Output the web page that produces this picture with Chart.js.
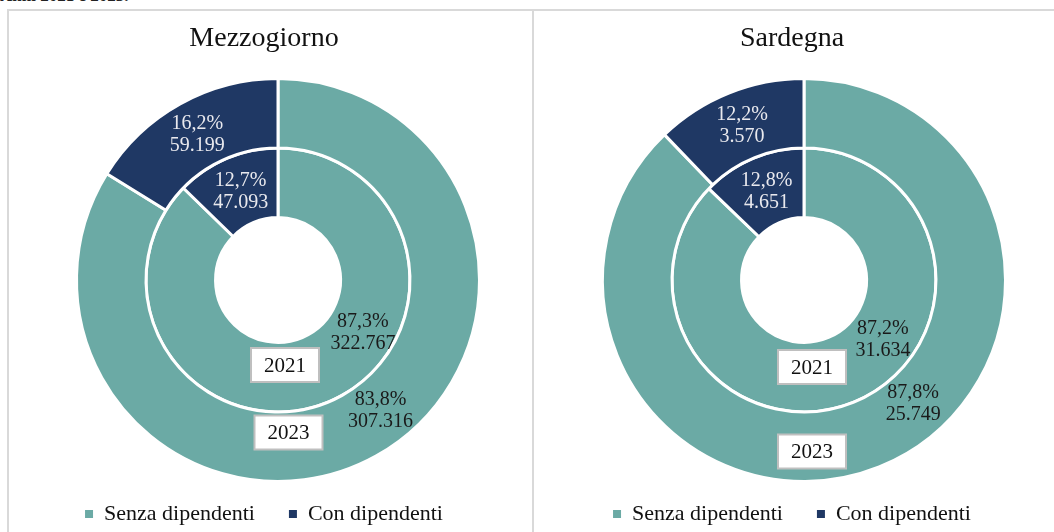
<!DOCTYPE html>
<html>
<head>
<meta charset="utf-8">
<script src="https://cdn.jsdelivr.net/npm/chart.js@4.4.1/dist/chart.umd.min.js"></script>
<style>
  html, body { margin: 0; padding: 0; background: #fff; overflow: hidden; }
  #wrap { position: relative; width: 1054px; height: 532px; overflow: hidden; }
  .cap { position: absolute; left: 0; top: -14px; font: bold 17px "Liberation Serif", serif; color: #222; white-space: nowrap; }
  .panel { position: absolute; top: 9px; height: 600px; border-top: 2px solid #d9d9d9; border-left: 2px solid #d9d9d9; }
  #p1 { left: 7px; width: 524px; }
  #p2 { left: 532px; width: 600px; }
  canvas { position: absolute; top: 0; }
  #c1 { left: 3px; }
  #c2 { left: 534px; }
</style>
</head>
<body>
<div id="wrap">
  <div class="cap">Anni 2021 e 2023.</div>
  <div class="panel" id="p1"></div>
  <div class="panel" id="p2"></div>
  <canvas id="c1" width="522" height="535"></canvas>
  <canvas id="c2" width="516" height="535"></canvas>
</div>
<script>
// dati: anello esterno = 2023, anello interno = 2021
const CATEGORIE = ['Senza dipendenti', 'Con dipendenti'];
const ANNI = ['2023', '2021'];
const MEZZOGIORNO_2023 = [307316, 59199];
const MEZZOGIORNO_2021 = [322767, 47093];
const SARDEGNA_2023 = [25749, 3570];
const SARDEGNA_2021 = [31634, 4651];

const TEAL = '#6BAAA5';
const NAVY = '#1F3864';
const FONT = '"Liberation Serif", "Times New Roman", serif';

function fmtInt(n) { return String(n).replace(/\B(?=(\d{3})+(?!\d))/g, '.'); }
function fmtPct(v) { return v.toFixed(1).replace('.', ',') + '%'; }

// mette il centro della ciambella dove serve (titolo e legenda restano centrati sul canvas)
const placeArea = {
  id: 'placeArea',
  afterLayout(chart, args, opts) {
    const a = chart.chartArea, h = opts.size / 2;
    a.left = opts.cx - h; a.right = opts.cx + h;
    a.top = opts.cy - h; a.bottom = opts.cy + h;
    a.width = opts.size; a.height = opts.size;
  }
};

// etichette percentuale + valore dentro gli archi
const arcLabels = {
  id: 'arcLabels',
  afterDatasetsDraw(chart, args, opts) {
    const ctx = chart.ctx;
    ctx.save();
    ctx.font = '20px ' + FONT;
    ctx.textAlign = 'center';
    ctx.textBaseline = 'middle';
    chart.data.datasets.forEach((ds, di) => {
      const tot = ds.data.reduce((s, v) => s + v, 0);
      chart.getDatasetMeta(di).data.forEach((arc, i) => {
        const p = arc.getProps(['x', 'y', 'startAngle', 'endAngle', 'innerRadius', 'outerRadius'], true);
        const [fa, fr] = opts.place[di][i];
        const ang = p.startAngle + fa * (p.endAngle - p.startAngle);
        const r = p.innerRadius + fr * (p.outerRadius - p.innerRadius);
        const x = p.x + Math.cos(ang) * r, y = p.y + Math.sin(ang) * r;
        ctx.fillStyle = i === 1 ? '#e9e9ee' : '#1a1a1a';
        ctx.fillText(fmtPct(ds.data[i] / tot * 100), x, y - 11);
        ctx.fillText(fmtInt(ds.data[i]), x, y + 11);
      });
    });
    ctx.restore();
  }
};

// riquadri con l'anno di ogni anello
const yearBoxes = {
  id: 'yearBoxes',
  afterDatasetsDraw(chart, args, opts) {
    const ctx = chart.ctx;
    const c = chart.getDatasetMeta(0).data[0];
    ctx.save();
    ctx.font = '21px ' + FONT;
    ctx.textAlign = 'center';
    ctx.textBaseline = 'middle';
    chart.data.datasets.forEach((ds, di) => {
      const [dx, dy] = opts.offsets[di];
      const x = c.x + dx, y = c.y + dy;
      ctx.fillStyle = '#fff';
      ctx.fillRect(x - 34, y - 17, 68, 34);
      ctx.strokeStyle = '#bfbfbf';
      ctx.lineWidth = 2;
      ctx.strokeRect(x - 34, y - 17, 68, 34);
      ctx.fillStyle = '#111';
      ctx.fillText(ds.label, x, y + 1);
    });
    ctx.restore();
  }
};

// legenda senza il bordo bianco degli archi (altrimenti il quadratino si rimpicciolisce)
function legendLabels(chart) {
  return Chart.overrides.doughnut.plugins.legend.labels.generateLabels(chart)
    .map(l => Object.assign(l, { lineWidth: 0, strokeStyle: 'transparent' }));
}

function makeChart(id, title, d2023, d2021, cx, place, offsets) {
  const ring = (label, data) => ({
    label, data,
    backgroundColor: [TEAL, NAVY],
    borderColor: '#fff',
    borderWidth: 3,
    hoverOffset: 0
  });
  return new Chart(document.getElementById(id), {
    type: 'doughnut',
    data: { labels: CATEGORIE, datasets: [ring(ANNI[0], d2023), ring(ANNI[1], d2021)] },
    options: {
      responsive: false,
      animation: false,
      cutout: '31%',
      layout: { padding: 0 },
      plugins: {
        title: {
          display: true, text: title, color: '#111',
          font: { family: FONT, size: 28, weight: 'normal' },
          padding: { top: 22, bottom: 0 }
        },
        legend: {
          position: 'bottom',
          labels: {
            boxWidth: 8, boxHeight: 8, padding: 34, color: '#111',
            font: { family: FONT, size: 22 },
            generateLabels: legendLabels
          }
        },
        tooltip: { enabled: false },
        placeArea: { cx, cy: 280, size: 406 },
        arcLabels: { place },
        yearBoxes: { offsets }
      }
    },
    plugins: [placeArea, arcLabels, yearBoxes]
  });
}

makeChart('c1', 'Mezzogiorno', MEZZOGIORNO_2023, MEZZOGIORNO_2021, 275,
  [[[0.47, 0.49], [0.5, 0.49]], [[0.388, 0.54], [0.5, 0.48]]],
  [[10.5, 152.5], [7, 85]]);
makeChart('c2', 'Sardegna', SARDEGNA_2023, SARDEGNA_2021, 270,
  [[[0.438, 0.47], [0.5, 0.49]], [[0.405, 0.525], [0.5, 0.475]]],
  [[8, 171.5], [8, 87]]);
</script>
</body>
</html>
